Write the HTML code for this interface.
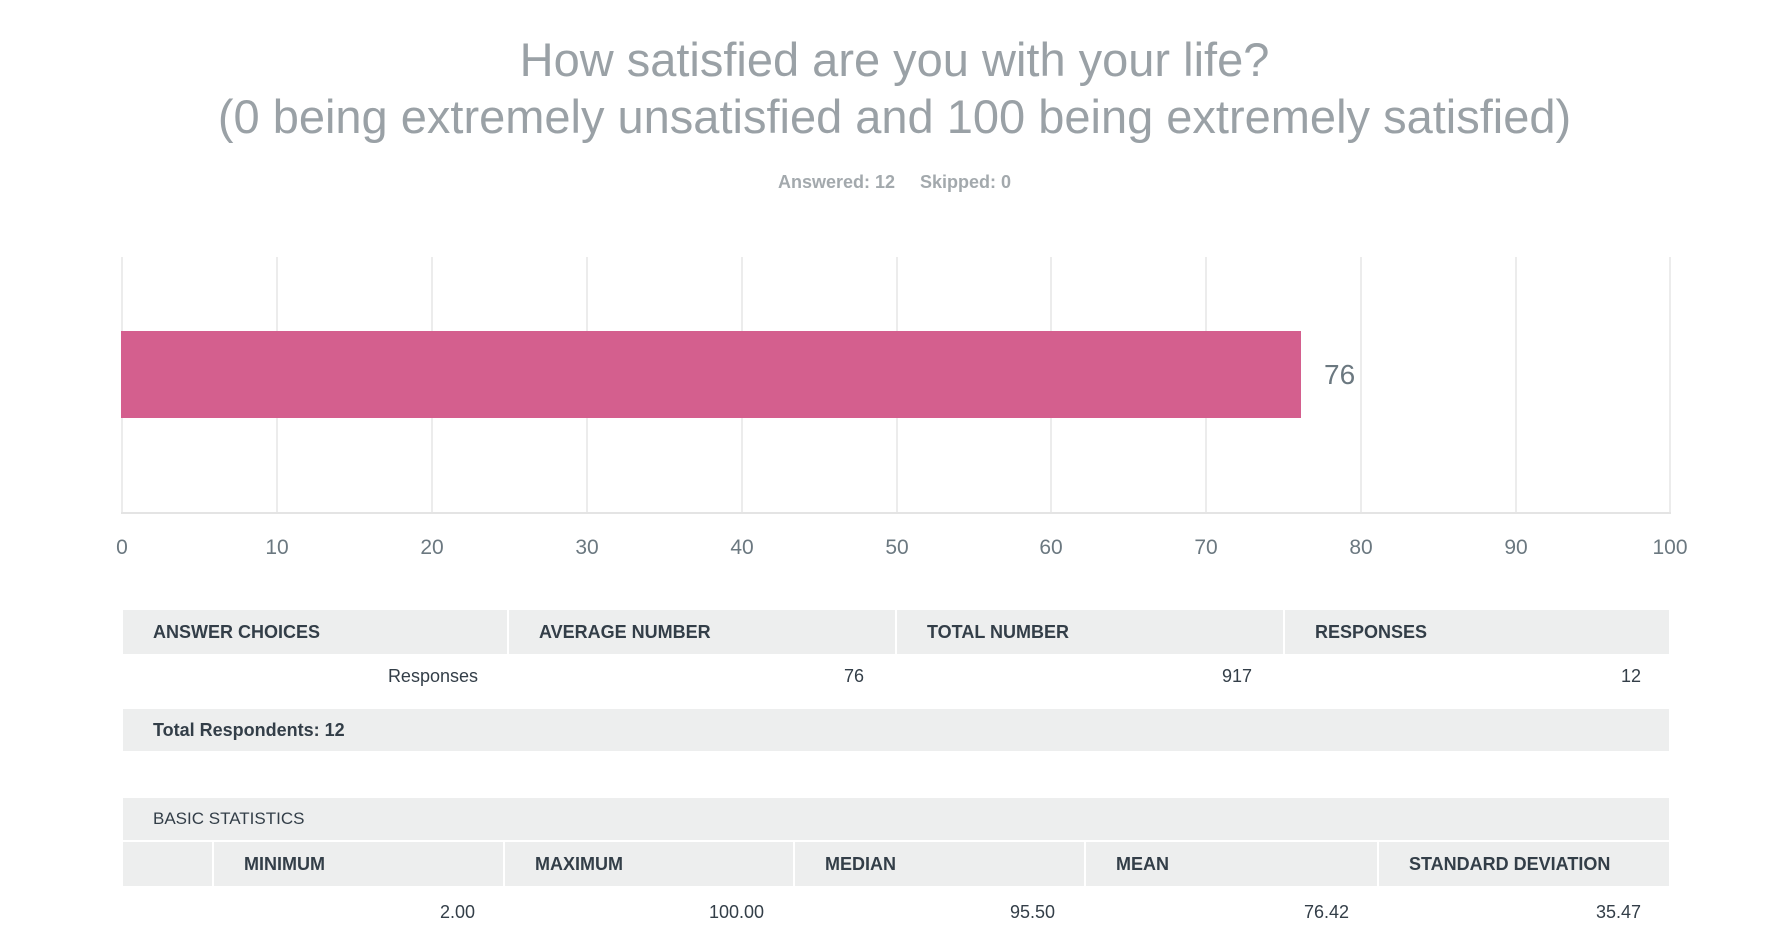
<!DOCTYPE html>
<html><head><style>
body{margin:0;width:1789px;height:932px;background:#fff;position:relative;overflow:hidden;font-family:"Liberation Sans",sans-serif}
.a{position:absolute}
.t{color:#9aa1a6;font-size:47px;width:1789px;text-align:center;left:0}
.g{top:257px;height:256px;width:2px;background:#ececec}
.tk{top:536px;font-size:21px;color:#6b7880;width:80px;text-align:center}
.hd{background:#edeeee;color:#333e48;font-weight:bold;font-size:18px;box-sizing:border-box;padding-left:30px}
.v{font-size:18px;color:#333e48;text-align:right}
</style></head><body>
<div class="a t" style="top:32px">How satisfied are you with your life?</div>
<div class="a t" style="top:89px">(0 being extremely unsatisfied and 100 being extremely satisfied)</div>
<div class="a" style="top:172px;left:0;width:1789px;text-align:center;font-size:18px;font-weight:bold;color:#a3a9ad">Answered: 12&nbsp;&nbsp;&nbsp;&nbsp;&nbsp;Skipped: 0</div>

<div class="a g" style="left:121px"></div><div class="a g" style="left:276px"></div><div class="a g" style="left:431px"></div><div class="a g" style="left:586px"></div><div class="a g" style="left:741px"></div><div class="a g" style="left:896px"></div><div class="a g" style="left:1050px"></div><div class="a g" style="left:1205px"></div><div class="a g" style="left:1360px"></div><div class="a g" style="left:1515px"></div><div class="a g" style="left:1669px"></div>
<div class="a" style="left:121px;top:512px;width:1550px;height:2px;background:#e4e4e4"></div>
<div class="a" style="left:121px;top:331px;width:1180px;height:87px;background:#d45f8e"></div>
<div class="a" style="left:1324px;top:359px;font-size:28px;color:#6b7880">76</div>

<div class="a tk" style="left:82px">0</div><div class="a tk" style="left:237px">10</div><div class="a tk" style="left:392px">20</div><div class="a tk" style="left:547px">30</div><div class="a tk" style="left:702px">40</div><div class="a tk" style="left:857px">50</div><div class="a tk" style="left:1011px">60</div><div class="a tk" style="left:1166px">70</div><div class="a tk" style="left:1321px">80</div><div class="a tk" style="left:1476px">90</div><div class="a tk" style="left:1630px">100</div>

<div class="a hd" style="left:123px;top:610px;width:384px;height:44px;line-height:44px">ANSWER CHOICES</div>
<div class="a hd" style="left:509px;top:610px;width:386px;height:44px;line-height:44px">AVERAGE NUMBER</div>
<div class="a hd" style="left:897px;top:610px;width:386px;height:44px;line-height:44px">TOTAL NUMBER</div>
<div class="a hd" style="left:1285px;top:610px;width:384px;height:44px;line-height:44px">RESPONSES</div>
<div class="a v" style="left:278px;width:200px;top:666px;font-weight:normal">Responses</div>
<div class="a v" style="left:664px;width:200px;top:666px">76</div>
<div class="a v" style="left:1052px;width:200px;top:666px">917</div>
<div class="a v" style="left:1441px;width:200px;top:666px">12</div>
<div class="a hd" style="left:123px;top:709px;width:1546px;height:42px;line-height:42px">Total Respondents: 12</div>

<div class="a hd" style="left:123px;top:798px;width:1546px;height:42px;line-height:42px;font-weight:normal;font-size:17px">BASIC STATISTICS</div>
<div class="a hd" style="left:123px;top:842px;width:89px;height:44px"></div>
<div class="a hd" style="left:214px;top:842px;width:289px;height:44px;line-height:44px">MINIMUM</div>
<div class="a hd" style="left:505px;top:842px;width:288px;height:44px;line-height:44px">MAXIMUM</div>
<div class="a hd" style="left:795px;top:842px;width:289px;height:44px;line-height:44px">MEDIAN</div>
<div class="a hd" style="left:1086px;top:842px;width:291px;height:44px;line-height:44px">MEAN</div>
<div class="a hd" style="left:1379px;top:842px;width:290px;height:44px;line-height:44px">STANDARD DEVIATION</div>
<div class="a v" style="left:275px;width:200px;top:902px">2.00</div>
<div class="a v" style="left:564px;width:200px;top:902px">100.00</div>
<div class="a v" style="left:855px;width:200px;top:902px">95.50</div>
<div class="a v" style="left:1149px;width:200px;top:902px">76.42</div>
<div class="a v" style="left:1441px;width:200px;top:902px">35.47</div>
</body></html>
